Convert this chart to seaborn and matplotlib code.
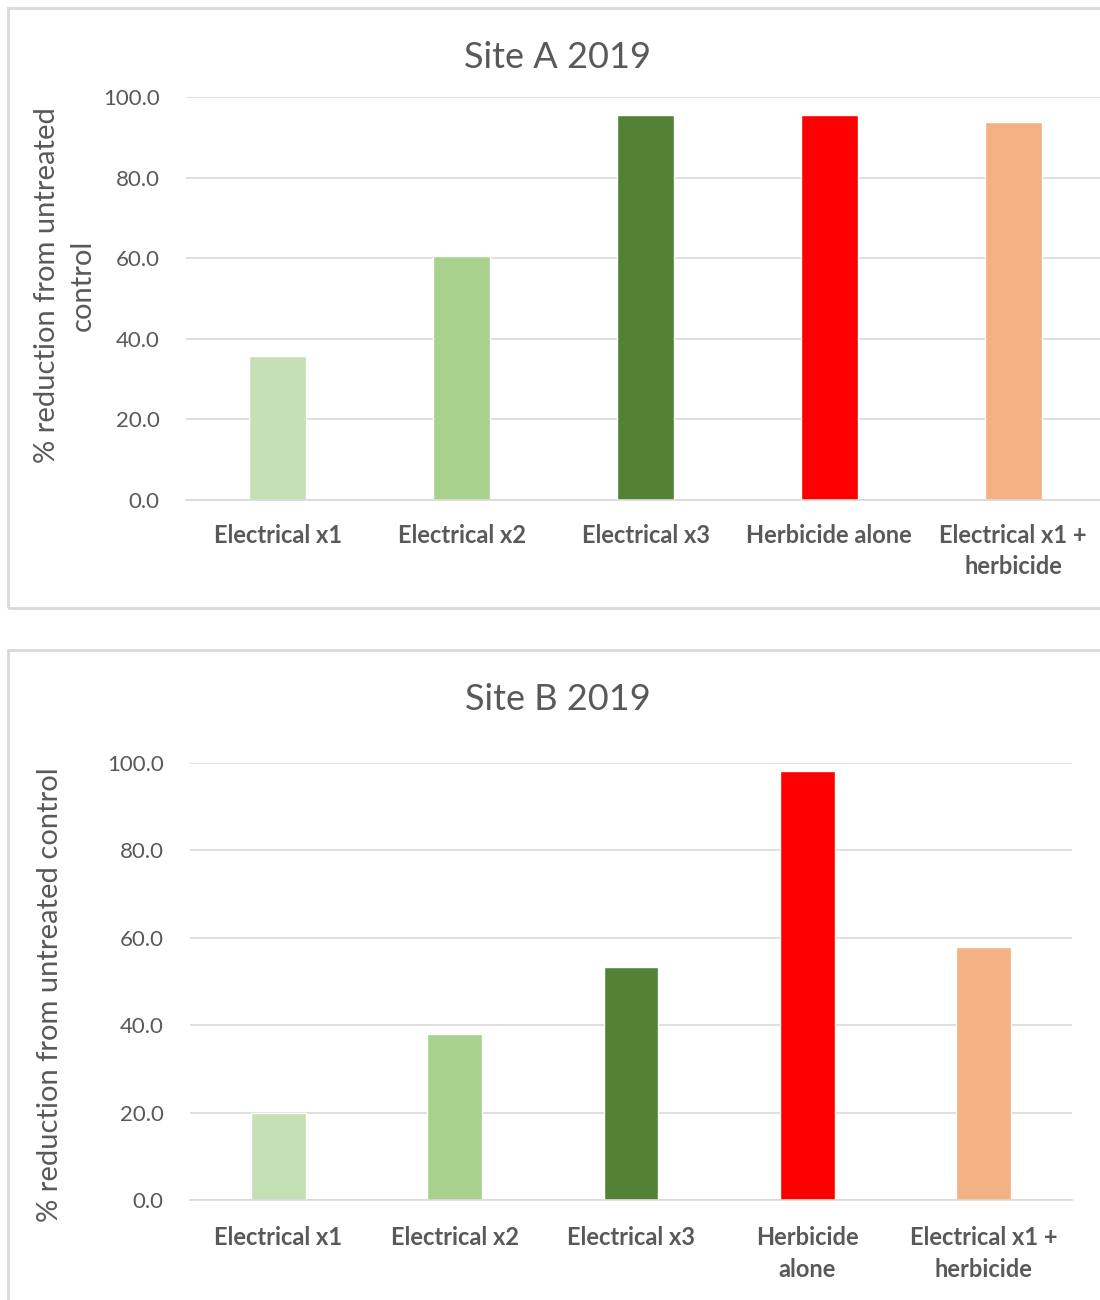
import matplotlib
matplotlib.use("Agg")
import matplotlib.pyplot as plt
import seaborn as sns
from matplotlib.patches import Rectangle

# data
cats_a = ["Electrical x1", "Electrical x2", "Electrical x3", "Herbicide alone", "Electrical x1 +\nherbicide"]
vals_a = [35.7, 60.5, 95.5, 95.5, 93.8]
cats_b = ["Electrical x1", "Electrical x2", "Electrical x3", "Herbicide\nalone", "Electrical x1 +\nherbicide"]
vals_b = [19.9, 38.0, 53.3, 98.2, 57.9]
bar_colors = ["#C5E0B4", "#A9D18E", "#548235", "#FF0000", "#F4B183"]
yticks = [0, 20, 40, 60, 80, 100]

sns.set_style("white")
plt.rcParams['font.family'] = ['Lato', 'DejaVu Sans']

W, H = 1100, 1300
fig = plt.figure(figsize=(11, 13), dpi=100)
txt = "#595959"

# panel borders (pixel boxes)
fig.patches.append(Rectangle((8 / W, 1 - 608 / H), 1.2, 600 / H, transform=fig.transFigure,
                             fill=False, edgecolor="#D9D9D9", linewidth=2))
fig.patches.append(Rectangle((8 / W, -0.1), 1.2, (1300 - 650) / H + 0.1, transform=fig.transFigure,
                             fill=False, edgecolor="#D9D9D9", linewidth=2))


def panel(rect, cats, vals, title, ylabel, title_y, ylab_x, ylab_y, xpad):
    ax = fig.add_axes(rect)
    sns.barplot(x=cats, y=vals, hue=cats, palette=bar_colors, legend=False,
                width=0.31, saturation=1, ax=ax)
    ax.set_ylim(0, 100)
    ax.set_yticks(yticks)
    ax.set_yticklabels([f"{v:.1f}" for v in yticks], fontsize=16, color=txt)
    ax.set_xticks(range(len(cats)))
    ax.set_xticklabels(cats, fontsize=17, color=txt, fontweight="bold", linespacing=1.45)
    ax.tick_params(axis="both", length=0)
    ax.tick_params(axis="x", pad=xpad)
    ax.tick_params(axis="y", pad=19)
    ax.grid(axis="y", color="#D9D9D9", linewidth=1.2)
    ax.set_axisbelow(True)
    for s in ["top", "right", "left"]:
        ax.spines[s].set_visible(False)
    ax.spines["bottom"].set_color("#D9D9D9")
    ax.spines["bottom"].set_linewidth(1.2)
    ax.set_ylabel("")
    fig.text(558 / W, 1 - title_y / H, title, ha="center", va="center", fontsize=26, color=txt)
    fig.text(ylab_x / W, 1 - ylab_y / H, ylabel, ha="center", va="center",
             rotation=90, fontsize=21, color=txt, linespacing=1.45)
    return ax


panel([186 / W, 1 - 500 / H, 919 / W, 403 / H], cats_a, vals_a, "Site A 2019",
      "% reduction from untreated\ncontrol", 57, 65, 285, 17)
panel([190 / W, 1 - 1200 / H, 882 / W, 437 / H], cats_b, vals_b, "Site B 2019",
      "% reduction from untreated control", 700, 50, 995, 19)

fig.savefig("out.png", dpi=100)
